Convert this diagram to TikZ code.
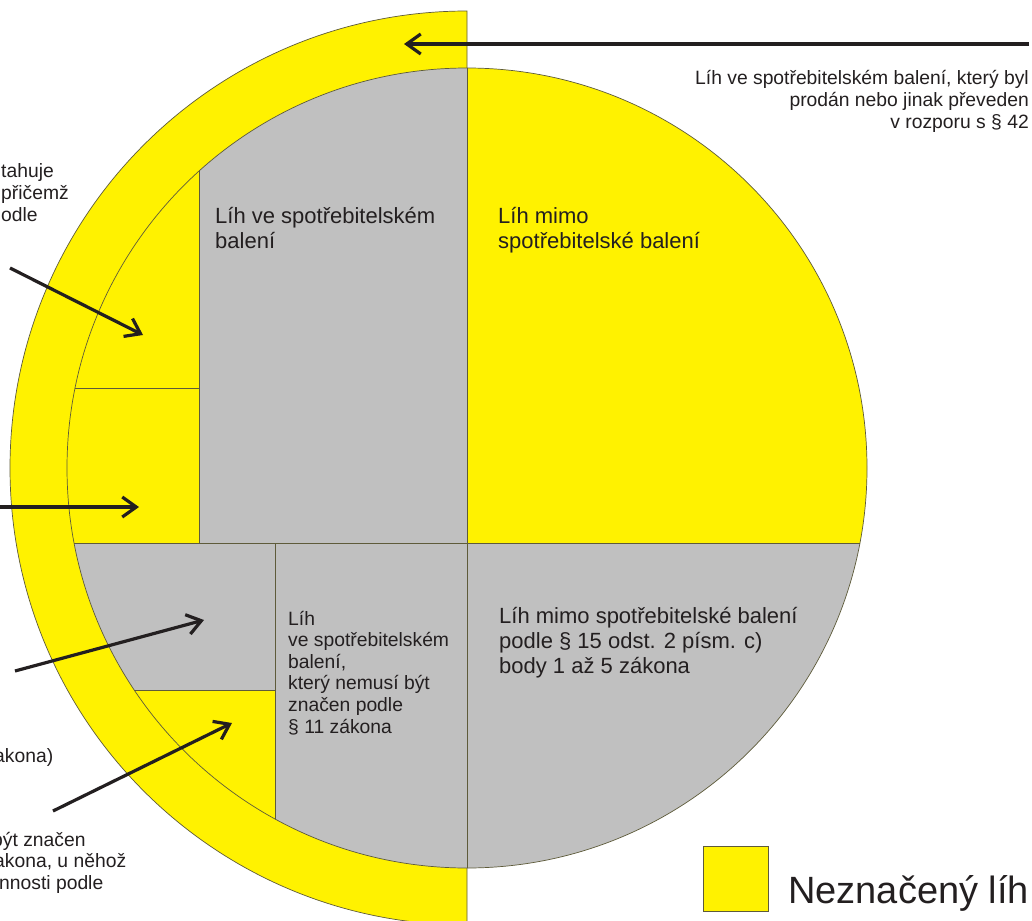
\documentclass[tikz,border=0pt]{standalone}
\usepackage{fontspec}
\setmainfont{Liberation Sans}
\usetikzlibrary{arrows.meta}
\definecolor{yel}{HTML}{FFF200}
\definecolor{gr}{HTML}{C0C0C0}
\definecolor{edge}{HTML}{5E5B3A}
\definecolor{ink}{HTML}{231F20}
\tikzset{
  big/.style={font=\fontsize{22}{25}\selectfont, text=ink, align=left, inner sep=0pt, anchor=base west},
  mid/.style={font=\fontsize{19.3}{21.6}\selectfont, text=ink, align=left, inner sep=0pt, anchor=base west},
  midr/.style={font=\fontsize{19.3}{21.6}\selectfont, text=ink, align=right, inner sep=0pt, anchor=base east},
  legendtext/.style={font=\fontsize{38}{42}\selectfont, text=ink, inner sep=0pt, anchor=base west},
  ptr/.style={line width=3.2pt, draw=ink, -{Straight Barb[length=14pt,width=20pt,line width=3.2pt]}},
  region/.style={draw=edge, line width=0.7pt},
}
\begin{document}
\begin{tikzpicture}[x=1pt,y=-1pt]
\useasboundingbox (0,0) rectangle (1032,920);
\fill[white] (0,0) rectangle (1032,920);
% outer half ring
\filldraw[fill=yel, region] (467,11) arc[start angle=-90, delta angle=-180, radius=457] -- cycle;
% inner circle regions
\begin{scope}
  \clip (467,468) circle[radius=400];
  \fill[gr]  (199,0)   rectangle (467,543);
  \fill[yel] (0,0)     rectangle (199,543);
  \fill[yel] (467,0)   rectangle (1032,543);
  \fill[gr]  (467,543) rectangle (1032,920);
  \fill[gr]  (275,543) rectangle (467,920);
  \fill[gr]  (0,543)   rectangle (275,690);
  \fill[yel] (0,690)   rectangle (275,920);
  \draw[region] (199,0) -- (199,543);
  \draw[region] (0,388) -- (199,388);
  \draw[region] (0,543) -- (1032,543);
  \draw[region] (467,0) -- (467,920);
  \draw[region] (275,543) -- (275,920);
  \draw[region] (0,690) -- (275,690);
\end{scope}
\draw[region] (467,468) circle[radius=400];

% texts inside (anchor = baseline of the last line)
\node[big] (t1) at (215,248) {Líh ve spotřebitelském\\balení};
\node[big] (t2) at (498,248) {Líh mimo\\spotřebitelské balení};
\node[big] (t3) at (499,673) {Líh mimo spotřebitelské balení\\podle § 15 odst. 2 písm. c)\\body 1 až 5 zákona};
\node[mid] (t4) at (288,733) {Líh\\ve spotřebitelském\\balení,\\který nemusí být\\značen podle\\§ 11 zákona};
\node[midr] (t5) at (1029,128.2) {Líh ve spotřebitelském balení, který byl\\prodán nebo jinak převeden\\v rozporu s § 42};

% cut-off texts on the left
\node[mid] (l1) at (1,221.2) {tahuje\\přičemž\\odle};
\node[mid] (l2) at (-6,762) {akona)};
\node[mid] (l3) at (-8,846) {být značen};
\node[mid] (l4) at (-6,867) {akona, u něhož};
\node[mid] (l5) at (-1,889) {nnosti podle};

% legend
\node[draw=edge, line width=0.7pt, fill=yel, minimum size=65pt, inner sep=0pt, anchor=north west] (lg) at (703,846) {};
\node[legendtext] (lgt) at (788,903) {Neznačený líh};

% arrows
\coordinate (a1s) at (1029,44);  \coordinate (a1e) at (404,44);
\coordinate (a2s) at (10,268);   \coordinate (a2e) at (143,335);
\coordinate (a3s) at (-5,507);   \coordinate (a3e) at (139,507);
\coordinate (a4s) at (15,671);   \coordinate (a4e) at (204,620);
\coordinate (a5s) at (53,811);   \coordinate (a5e) at (232,723);
\draw[ptr] (a1s) -- (a1e);
\draw[ptr] (a2s) -- (a2e);
\draw[ptr] (a3s) -- (a3e);
\draw[ptr] (a4s) -- (a4e);
\draw[ptr] (a5s) -- (a5e);
\end{tikzpicture}
\end{document}
